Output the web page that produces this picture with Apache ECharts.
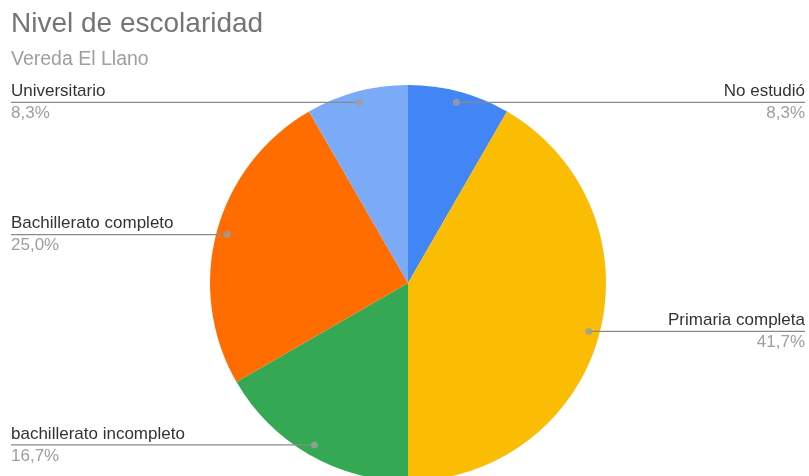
<!DOCTYPE html>
<html>
<head>
<meta charset="utf-8">
<script src="https://cdn.jsdelivr.net/npm/echarts@6/dist/echarts.min.js"></script>
<style>
  html, body { margin: 0; padding: 0; background: #fff; }
  #main { width: 809px; height: 476px; }
</style>
</head>
<body>
<div id="main"></div>
<script>
// datos
var categorias = ['No estudió', 'Primaria completa', 'bachillerato incompleto', 'Bachillerato completo', 'Universitario'];
var valores = [1, 5, 2, 3, 1];
var colores = ['#4285F4', '#FBBC04', '#34A853', '#FF6D01', '#7BAAF7'];

var total = valores.reduce(function (a, b) { return a + b; }, 0);

var datosPie = categorias.map(function (c, i) {
  return { name: c, value: valores[i], itemStyle: { color: colores[i] } };
});

// puntos de las guias, en el medio de cada porcion
var acumulado = 0;
var puntos = valores.map(function (v) {
  var medio = acumulado + v / 2;
  acumulado += v;
  return [0.945, medio];
});

var fuente = '"Liberation Sans", Arial, sans-serif';

var myChart = echarts.init(document.getElementById('main'));

var option = {
  backgroundColor: '#fff',
  textStyle: { fontFamily: fuente },
  title: {
    text: 'Nivel de escolaridad',
    subtext: 'Vereda El Llano',
    left: 11,
    top: 10,
    padding: 0,
    itemGap: 12,
    textStyle: { fontSize: 28, fontWeight: 'normal', color: '#757575', fontFamily: fuente },
    subtextStyle: { fontSize: 19.5, color: '#9e9e9e', fontFamily: fuente }
  },
  polar: { center: [408, 283], radius: 198 },
  angleAxis: { type: 'value', min: 0, max: total, startAngle: 90, clockwise: true, show: false },
  radiusAxis: { type: 'value', min: 0, max: 1, show: false },
  series: [
    {
      type: 'pie',
      z: 2,
      left: 11,
      width: 794,
      center: [397, 283],
      radius: 198,
      startAngle: 90,
      clockwise: true,
      silent: true,
      label: { show: false },
      labelLine: { show: false },
      data: datosPie
    },
    {
      // serie invisible solo para etiquetas
      type: 'pie',
      z: 3,
      left: 11,
      width: 794,
      center: [397, 283],
      radius: 187,
      startAngle: 90,
      clockwise: true,
      silent: true,
      itemStyle: { color: 'rgba(0,0,0,0)' },
      label: {
        show: true,
        alignTo: 'edge',
        edgeDistance: 0,
        formatter: function (p) {
          var pct = (p.value / total * 100).toFixed(1).replace('.', ',');
          return '{n|' + p.name + '}\n{p|' + pct + '%}';
        },
        rich: {
          n: { fontSize: 17, color: '#333333', lineHeight: 22, fontFamily: fuente },
          p: { fontSize: 17, color: '#9e9e9e', lineHeight: 22, fontFamily: fuente }
        }
      },
      labelLine: {
        show: true,
        length: 0,
        length2: 10,
        lineStyle: { color: '#8a8a8a', width: 1.2 }
      },
      labelLayout: function (params) {
        var izq = params.labelRect.x < 404;
        var pts = params.labelLinePoints;
        if (pts) {
          pts[2][0] = izq ? params.labelRect.x : params.labelRect.x + params.labelRect.width;
        }
        return { labelLinePoints: pts };
      },
      data: categorias.map(function (c, i) { return { name: c, value: valores[i] }; })
    },
    {
      type: 'scatter',
      coordinateSystem: 'polar',
      z: 4,
      silent: true,
      symbol: 'circle',
      symbolSize: 7,
      itemStyle: { color: '#9e9e9e' },
      data: puntos
    }
  ]
};

myChart.setOption(option);
</script>
</body>
</html>
